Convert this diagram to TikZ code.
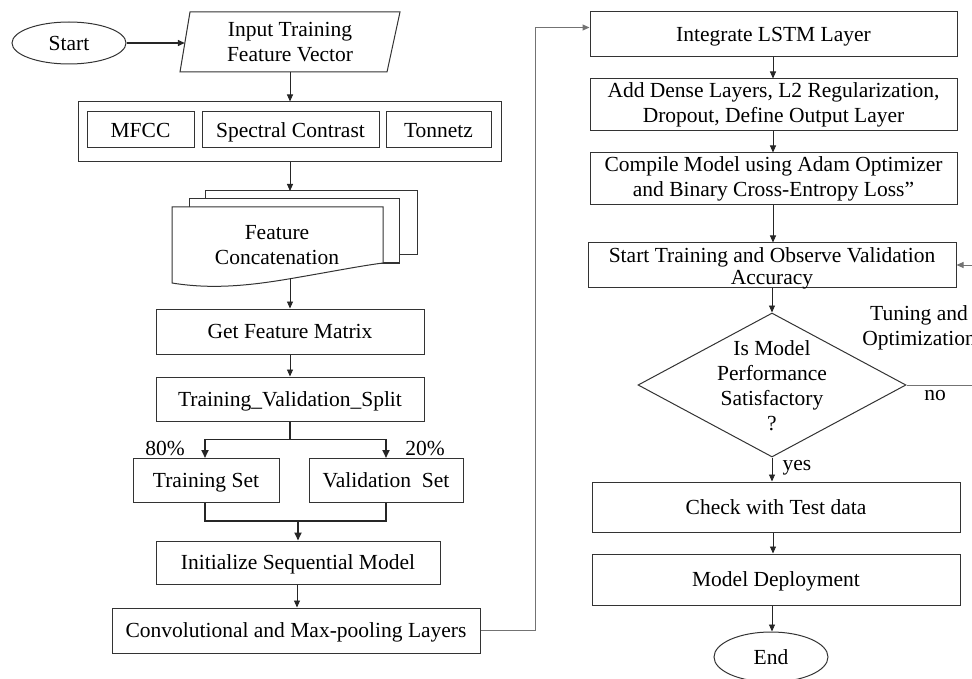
\documentclass[tikz,border=0pt]{standalone}
\usepackage{fontspec}
\setmainfont{Liberation Serif}
\usetikzlibrary{shapes.geometric,arrows.meta,calc}
\begin{document}
\begin{tikzpicture}[x=1pt,y=-1pt,
  every node/.style={font=\fontsize{21.5}{25}\selectfont, inner sep=0pt, text=black},
  box/.style={draw=black!80, line width=1pt, rectangle, align=center},
  one/.style={text height=14.4pt, text depth=0pt},
  oval/.style={draw=black!80, line width=1pt, ellipse},
  arr/.style={-{Triangle[length=7pt,width=6pt]}, line width=0.9pt, draw=black!85},
  thickarr/.style={-{Triangle[length=8pt,width=7pt]}, line width=1.8pt, draw=black!85},
  thickline/.style={line width=1.8pt, draw=black!85},
  grayarr/.style={-{Triangle[length=7pt,width=6pt]}, line width=1pt, draw=black!55},
  lbl/.style={align=center}
]
\useasboundingbox (0,0) rectangle (972,679);

% ---------- left column ----------
\node[oval, one, minimum width=114pt, minimum height=42pt] (start) at (69,43) {Start};
\node[lbl, minimum width=210pt, minimum height=60pt] (inp) at (290,42) {Input Training\\Feature Vector};
\draw[draw=black!80, line width=1pt] (190,12) -- (400,12) -- (387,72) -- (180,72) -- cycle;

\node[box, minimum width=423pt, minimum height=60pt] (feat) at (289.5,132) {};
\node[box, one, minimum width=107pt, minimum height=36pt] (mfcc) at (140.5,130) {MFCC};
\node[box, one, minimum width=177pt, minimum height=36pt] (spec) at (290.5,130) {Spectral Contrast};
\node[box, one, minimum width=105pt, minimum height=36pt] (ton) at (438.5,130) {Tonnetz};

% stacked document
\draw[draw=black!80, line width=1pt, fill=white] (205,191) rectangle (417,255);
\draw[draw=black!80, line width=1pt, fill=white] (189,199) rectangle (399,263);
\draw[draw=black!80, line width=1pt, fill=white] (172,207) -- (383,207) -- (383,263)
   .. controls (360,266) and (335,271) .. (300,277)
   .. controls (255,285) and (215,290) .. (172,283) -- cycle;
\node[lbl] (cat) at (277,245) {Feature\\Concatenation};
\coordinate (doctop) at (290,191);
\coordinate (docbot) at (290,278);

\node[box, one, minimum width=268pt, minimum height=45pt] (gfm) at (290,331.5) {Get Feature Matrix};
\node[box, one, minimum width=268pt, minimum height=44pt] (split) at (290,399) {Training\_Validation\_Split};
\node[box, one, minimum width=146pt, minimum height=44pt] (train) at (206,480.5) {Training Set};
\node[box, one, minimum width=154pt, minimum height=44pt] (val) at (386,480.5) {Validation\ \ Set};
\node[box, one, minimum width=284pt, minimum height=43pt] (init) at (298,562.5) {Initialize Sequential Model};
\node[box, one, minimum width=368pt, minimum height=45pt] (conv) at (296,630.5) {Convolutional and Max-pooling Layers};

\node[anchor=base] (p80) at (165,455) {80\%};
\node[anchor=base] (p20) at (425,455) {20\%};

% ---------- right column ----------
\node[box, one, minimum width=367pt, minimum height=45pt] (lstm) at (773.5,34.5) {Integrate LSTM Layer};
\node[box, minimum width=367pt, minimum height=52pt] (dense) at (773.5,105) {Add Dense Layers, L2 Regularization,\\Dropout, Define Output Layer};
\node[box, minimum width=367pt, minimum height=52pt] (comp) at (773.5,179) {Compile Model using Adam Optimizer\\and Binary Cross-Entropy Loss''};
\node[box, minimum width=368pt, minimum height=44pt] (st) at (772,265) {};
\node[align=center, font=\fontsize{21.5}{22}\selectfont] (stt) at (772,268) {Start Training and Observe Validation\\Accuracy};

\node[diamond, draw=black!80, line width=1pt, minimum width=268pt, minimum height=144pt, inner sep=0pt] (dia) at (772,385) {};
\node[lbl] (diat) at (772,386) {Is Model\\Performance\\Satisfactory\\?};

\node[box, one, minimum width=368pt, minimum height=50pt] (chk) at (776,507) {Check with Test data};
\node[box, one, minimum width=368pt, minimum height=51pt] (dep) at (776,579.5) {Model Deployment};
\node[oval, one, minimum width=114pt, minimum height=50pt] (end) at (771,657) {End};

\node[lbl] (tun) at (919,327.5) {Tuning and\\Optimization};
\node[anchor=base] (no) at (935,400) {no};
\node[anchor=base] (yes) at (797,470) {yes};

% ---------- connectors ----------
\draw[arr, line width=1.4pt] (start.east) -- (start.east -| inp.west);
\draw[arr] (290,72) -- (feat.north -| 290,0);
\draw[arr] (feat.south -| 290,0) -- (doctop);
\draw[arr] (docbot) -- (gfm.north -| 290,0);
\draw[arr] (gfm.south) -- (split.north);
\draw[thickline] (split.south) -- ++(0,18) coordinate (sp);
\draw[thickarr] (sp) -| (train.north -| 205,0);
\draw[thickarr] (sp) -| (val.north);
\draw[thickline] (train.south -| 205,0) |- (298,521) coordinate (mg) -| (val.south);
\draw[thickarr] (mg) -- (init.north -| mg);
\draw[arr] (init.south -| 297,0) -- (conv.north -| 297,0);
\draw[grayarr] (conv.east) -- (535,630.5) |- ([yshift=7pt]lstm.west);

\draw[arr] (lstm.south -| 773,0) -- (dense.north -| 773,0);
\draw[arr] (dense.south -| 773,0) -- (comp.north -| 773,0);
\draw[arr] (comp.south -| 773,0) -- (st.north -| 773,0);
\draw[arr] (st.south -| 772,0) -- (dia.north);
\draw[arr] (dia.south) -- (chk.north -| dia.south);
\draw[arr] (chk.south -| 773,0) -- (dep.north -| 773,0);
\draw[arr] (dep.south -| 772,0) -- (end.north -| 772,0);
\draw[grayarr] (dia.east) -- (990,385) |- (st.east);
\end{tikzpicture}
\end{document}
